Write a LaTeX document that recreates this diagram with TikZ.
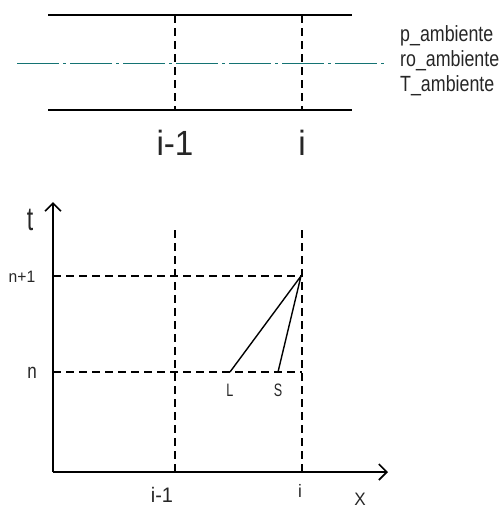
\documentclass[tikz,border=0pt]{standalone}
\usepackage{fontspec}
\setmainfont{Liberation Sans}
\newfontfamily\tfA[FakeStretch=0.7]{Liberation Sans}
\newfontfamily\tfB[FakeStretch=0.81]{Liberation Sans}
\newfontfamily\tfC[FakeStretch=0.95]{Liberation Sans}
\usetikzlibrary{arrows.meta}
\definecolor{centercol}{RGB}{20,115,115}
\tikzset{
  solidline/.style={line width=1.8pt},
  dashline/.style={line width=1.8pt, dash pattern=on 8pt off 5pt},
  centerline/.style={line width=0.6pt, centercol, dash pattern=on 42pt off 4pt on 3pt off 4pt},
  axisline/.style={line width=1.8pt, -{Straight Barb[length=8pt,width=16pt,line width=1.6pt]}},
  lbl/.style={inner sep=0pt, text=black!85},
  amb/.style={lbl, font=\tfB\fontsize{22}{22}\selectfont, anchor=base west},
}
\begin{document}
\begin{tikzpicture}[x=1pt,y=-1pt]
\useasboundingbox (0,0) rectangle (503,509);
% top part
\coordinate (tl1) at (48,15);   \coordinate (tr1) at (352,15);
\coordinate (tl2) at (48,110);  \coordinate (tr2) at (352,110);
\coordinate (a1) at (175,15);   \coordinate (a2) at (175,110);
\coordinate (b1) at (302,15);   \coordinate (b2) at (302,110);
\coordinate (c1) at (17,63);    \coordinate (c2) at (387,63);
\draw[solidline] (tl1) -- (tr1);
\draw[solidline] (tl2) -- (tr2);
\draw[dashline] (a1) -- (a2);
\draw[dashline] (b1) -- (b2);
\draw[centerline] (c1) -- (c2);
\node[lbl, font=\tfC\fontsize{35}{35}\selectfont, anchor=base] (im1top) at (175,155) {i-1};
\node[lbl, font=\tfC\fontsize{35}{35}\selectfont, anchor=base] (itop) at (302,155) {i};
\node[amb] (pamb) at (400,41) {p\_ambiente};
\node[amb] (roamb) at (400,66) {ro\_ambiente};
\node[amb] (Tamb) at (400,91) {T\_ambiente};
% bottom part
\coordinate (O) at (53,472);
\coordinate (ytop) at (53,202);
\coordinate (xend) at (388,472);
\draw[axisline] (O) -- (ytop);
\draw[axisline] (O) -- (xend);
\coordinate (v1t) at (175,230); \coordinate (v1b) at (175,472);
\coordinate (v2t) at (302,230); \coordinate (v2b) at (302,472);
\draw[dashline] (v1t) -- (v1b);
\draw[dashline] (v2t) -- (v2b);
\coordinate (h1l) at (53,276); \coordinate (apex) at (301,276);
\coordinate (h2l) at (53,372); \coordinate (h2r) at (302,372);
\draw[dashline] (h1l) -- (apex);
\draw[dashline] (h2l) -- (h2r);
\coordinate (Lp) at (230,372);
\coordinate (Sp) at (278,372);
\draw[line width=1.4pt, line join=miter] (Lp) -- (apex) -- (Sp);
\node[lbl, font=\tfA\fontsize{33}{33}\selectfont, anchor=base] (tl) at (30,230) {t};
\node[lbl, font=\tfC\fontsize{16.5}{16.5}\selectfont, anchor=base] (np1) at (22,282) {n+1};
\node[lbl, font=\tfB\fontsize{21}{21}\selectfont, anchor=base] (nn) at (32,378) {n};
\node[lbl, font=\tfA\fontsize{18}{18}\selectfont, anchor=base] (Ll) at (230,396) {L};
\node[lbl, font=\tfA\fontsize{18}{18}\selectfont, anchor=base] (Sl) at (278,396) {S};
\node[lbl, font=\tfC\fontsize{21}{21}\selectfont, anchor=base] (im1b) at (162,502) {i-1};
\node[lbl, font=\tfC\fontsize{18}{18}\selectfont, anchor=base] (ib) at (300,497) {i};
\node[lbl, font=\tfC\fontsize{18}{18}\selectfont, anchor=base] (xl) at (360,505) {X};
\end{tikzpicture}
\end{document}
